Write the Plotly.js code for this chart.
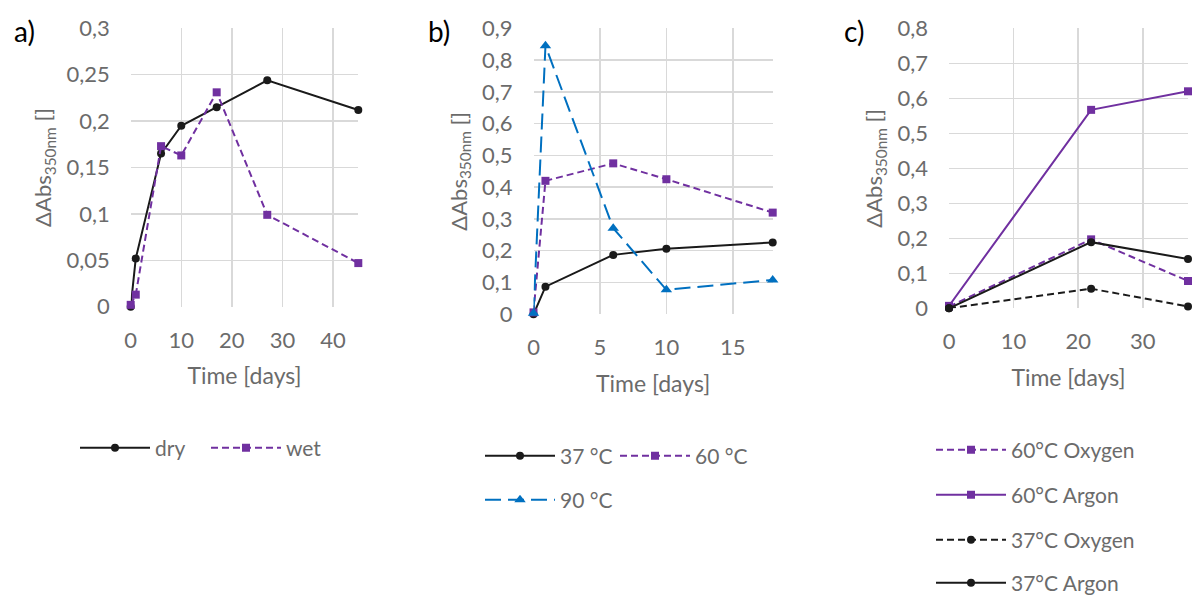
<!DOCTYPE html>
<html><head><meta charset="utf-8">
<script src="https://cdn.plot.ly/plotly-3.0.1.min.js"></script>
<style>html,body{margin:0;padding:0;background:#fff}#chart{width:1193px;height:596px}</style>
</head><body><div id="chart"></div>
<script>
// ---- Panel a) ----
const daysA = [0, 1, 6, 10, 17, 27, 45];
const dryA  = [0, 0.052, 0.165, 0.195, 0.215, 0.244, 0.212];
const wetA  = [0.002, 0.013, 0.173, 0.163, 0.231, 0.099, 0.047];
// ---- Panel b) ----
const daysB = [0, 0.9, 6, 10, 18];
const t37B  = [0, 0.087, 0.187, 0.206, 0.226];
const t60B  = [0.006, 0.42, 0.475, 0.425, 0.32];
const t90B  = [0.003, 0.845, 0.271, 0.077, 0.108];
// ---- Panel c) ----
const daysC = [0, 22, 37];
const ox60C = [0.005, 0.197, 0.078];
const ar60C = [0.007, 0.567, 0.62];
const ox37C = [0, 0.056, 0.005];
const ar37C = [0, 0.189, 0.141];
// ---- Labels ----
const panelLabels = ['a)', 'b)', 'c)'];
const namesA = ['dry', 'wet'];
const namesB = ['37 °C', '60 °C', '90 °C'];
const namesC = ['60°C Oxygen', '60°C Argon', '37°C Oxygen', '37°C Argon'];
const xTitle = 'Time [days]';
const yTitle = 'ΔAbs<sub>350nm</sub> []';

const FONT = "Lato, 'Open Sans', sans-serif";
const GRAY = '#6b6b6b';
const BLACK = '#1a1a1a', PURPLE = '#7030A0', BLUE = '#0070C0';
const SHORTDASH = '7px,4px', LONGDASH = '16px,7px';

function tr(x, y, name, color, dash, symbol, size, xa, ya, legend) {
  return {
    x: x, y: y, name: name, type: 'scatter', mode: 'lines+markers',
    line: {color: color, width: 2, dash: dash},
    marker: {color: color, symbol: symbol, size: size},
    xaxis: xa, yaxis: ya, legend: legend, cliponaxis: false
  };
}

const data = [
  tr(daysA, dryA, namesA[0], BLACK, 'solid', 'circle', 8, 'x', 'y', 'legend'),
  tr(daysA, wetA, namesA[1], PURPLE, SHORTDASH, 'square', 8, 'x', 'y', 'legend'),
  tr(daysB, t37B, namesB[0], BLACK, 'solid', 'circle', 8, 'x2', 'y2', 'legend2'),
  tr(daysB, t60B, namesB[1], PURPLE, SHORTDASH, 'square', 8, 'x2', 'y2', 'legend2'),
  tr(daysB, t90B, namesB[2], BLUE, LONGDASH, 'triangle-up', 10, 'x2', 'y2', 'legend3'),
  tr(daysC, ox60C, namesC[0], PURPLE, SHORTDASH, 'square', 8, 'x3', 'y3', 'legend4'),
  tr(daysC, ar60C, namesC[1], PURPLE, 'solid', 'square', 8, 'x3', 'y3', 'legend5'),
  tr(daysC, ox37C, namesC[2], BLACK, SHORTDASH, 'circle', 8, 'x3', 'y3', 'legend6'),
  tr(daysC, ar37C, namesC[3], BLACK, 'solid', 'circle', 8, 'x3', 'y3', 'legend7')
];

function xax(domain, range, dtick, anchor) {
  return {
    domain: domain, range: range, dtick: dtick, tick0: 0, anchor: anchor,
    showgrid: true, gridcolor: '#d9d9d9', gridwidth: 1.5,
    zeroline: false, showline: false, ticks: '', ticklabelstandoff: 18,
    tickfont: {family: FONT, size: 22, color: GRAY},
    title: {text: xTitle, font: {family: FONT, size: 23, color: GRAY}, standoff: 16},
    fixedrange: true, automargin: false
  };
}
function yax(domain, range, dtick, anchor) {
  return {
    domain: domain, range: range, dtick: dtick, tick0: 0, anchor: anchor,
    showgrid: true, gridcolor: '#d9d9d9', gridwidth: 1.5,
    zeroline: false, showline: false, ticks: '', ticklabelstandoff: 20,
    tickfont: {family: FONT, size: 22, color: GRAY},
    title: {text: yTitle, font: {family: FONT, size: 22, color: GRAY}, standoff: 8},
    fixedrange: true, automargin: false
  };
}

const W = 1193, H = 596, MB = 30, HP = H - MB;   // plot area height in px
const px = v => v / W;           // pixel x -> paper x
const py = v => 1 - v / HP;      // pixel y -> paper y

function leg(x, y, extra) {
  return Object.assign({
    font: {family: FONT, size: 21, color: GRAY},
    bgcolor: 'rgba(0,0,0,0)', borderwidth: 0, itemwidth: 70,
    orientation: 'h', xanchor: 'left', yanchor: 'middle',
    x: px(x), y: py(y), itemclick: false, itemdoubleclick: false
  }, extra || {});
}

const layout = {
  width: W, height: H,
  margin: {l: 0, r: 0, t: 0, b: MB, autoexpand: false},
  paper_bgcolor: '#fff', plot_bgcolor: '#fff',
  separators: ', ',
  font: {family: FONT, color: GRAY},
  xaxis:  xax([px(130.7), px(358.3)], [0, 45], 10, 'y'),
  yaxis:  yax([py(306.7), py(28.3)], [0, 0.3], 0.05, 'x'),
  xaxis2: xax([px(533.5), px(772.7)], [0, 18], 5, 'y2'),
  yaxis2: yax([py(314.3), py(28.3)], [0, 0.9], 0.1, 'x2'),
  xaxis3: xax([px(949), px(1188)], [0, 37], 10, 'y3'),
  yaxis3: yax([py(308.3), py(28.3)], [0, 0.8], 0.1, 'x3'),
  legend:  leg(75, 448, {entrywidth: 46}),
  legend2: leg(480, 456, {entrywidth: 50}),
  legend3: leg(480, 500),
  legend4: leg(931, 450),
  legend5: leg(931, 495),
  legend6: leg(931, 540),
  legend7: leg(931, 583),
  showlegend: true,
  annotations: [
    {text: panelLabels[0], x: px(24), y: py(31)},
    {text: panelLabels[1], x: px(439), y: py(31)},
    {text: panelLabels[2], x: px(854), y: py(31)}
  ].map(a => Object.assign(a, {xref: 'paper', yref: 'paper', showarrow: false,
    xanchor: 'center', yanchor: 'middle', font: {family: FONT, size: 28, color: '#000'}}))
};

Plotly.newPlot('chart', data, layout, {displayModeBar: false, staticPlot: true});
</script></body></html>
